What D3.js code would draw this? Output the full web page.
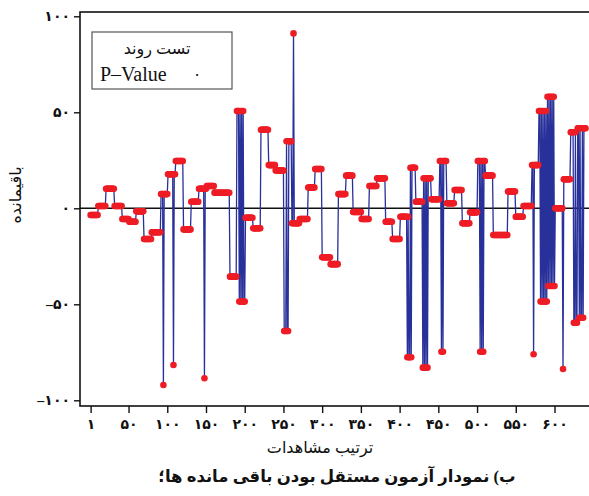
<!DOCTYPE html>
<html><head><meta charset="utf-8">
<script src="https://cdn.jsdelivr.net/npm/d3@7/dist/d3.min.js"></script>
<style>body{margin:0;background:#fff}</style>
</head><body>
<svg id="c" width="589" height="496"></svg>
<script>
// Residual runs: value of each run and how many consecutive observations it covers
const runValue = [
 -3.5,1.2,10.2,1.2,-5.6,-7,-1.6,-16,-12.5,
 7.4,-92,7.4,17.7,-81.6,17.7,24.6,-11,3.4,10.2,-88.5,10.2,11.6,8.1,-35.6,
 50.7,-48.6,50.7,-48.6,50.7,-48.6,50.7,-48.6,
 -4.9,-10.4,40.9,22.5,19.7,-63.9,34.9,-63.9,34.9,-7.8,91.1,-7.8,
 -5.6,10.8,20.5,-25.5,-29.1,7.4,17,-1.9,-5.6,11.6,15.6,-7,-16,-4.4,
 -77.6,-4.4,-77.6,21.1,-77.6,21.1,
 3.4,
 -83,15.6,-83,15.6,-83,15.6,-83,15.6,
 4.7,
 24.6,-74.7,24.6,-74.7,24.6,
 2.6,9.5,-7.8,-2.1,
 24.6,-74.7,24.6,-74.7,24.6,-74.7,24.6,
 17,-13.9,8.7,-4.4,1.2,
 22.5,-76,22.5,
 50.7,-48.6,50.7,-48.6,50.7,-48.6,50.7,-48.6,50.7,-48.6,
 58.1,-40.5,58.1,-40.5,58.1,-40.5,58.1,-40.5,58.1,-40.5,
 0,-83.7,15.1,
 39.6,-59.6,39.6,-59.6,41.7,-57,41.7,-57,41.7,-57,41.7
];
const runCount = [
 10,10,11,10,9,9,10,10,12,
 3,1,5,7,1,2,10,10,10,7,1,2,10,20,9,
 3,1,1,1,1,1,1,2,
 10,10,10,9,11,3,1,2,4,2,1,7,
 11,9,9,11,10,10,9,11,10,10,11,9,10,9,
 1,1,2,1,1,5,
 9,
 1,1,1,1,1,1,1,4,
 11,
 2,1,1,1,4,
 10,10,10,10,
 3,1,1,1,1,1,2,
 10,19,10,10,11,
 2,1,6,
 2,1,1,1,1,1,1,1,1,1,
 1,1,1,1,1,1,1,1,1,1,
 10,1,9,
 4,2,1,2,2,1,1,2,1,1,3
];
const xTickValues = [1,50,100,150,200,250,300,350,400,450,500,550,600];
const xTickLabels = ["۱","۵۰","۱۰۰","۱۵۰","۲۰۰","۲۵۰","۳۰۰","۳۵۰","۴۰۰","۴۵۰","۵۰۰","۵۵۰","۶۰۰"];
const yTickValues = [100,50,0,-50,-100];
const yTickLabels = ["۱۰۰","۵۰","۰","–۵۰","–۱۰۰"];
const legendTitle = "تست روند";
const legendLabel = "P–Value";
const legendValue = "۰";
const xTitle = "ترتیب مشاهدات";
const yTitle = "باقیمانده";
const caption = "ب) نمودار آزمون مستقل بودن باقی مانده ها؛";

// expand runs into observations
const series = [];
runValue.forEach((v, k) => {
  for (let j = 0; j < runCount[k]; j++) series.push({obs: series.length + 1, value: v});
});

const FONT = "'Liberation Serif','DejaVu Sans',serif";
const svg = d3.select("#c");
const frame = {left: 80, right: 592, top: 12, bottom: 406};
const x = d3.scaleLinear().domain([1, 600]).range([90.6, 554.5]);
const y = d3.scaleLinear().domain([-100, 100]).range([400.3, 16.3]);

// zero reference line
svg.append("line")
  .attr("x1", frame.left).attr("x2", frame.right)
  .attr("y1", y(0)).attr("y2", y(0))
  .attr("stroke", "#111").attr("stroke-width", 1.4);

// series line
svg.append("path").datum(series)
  .attr("fill", "none").attr("stroke", "#28309a").attr("stroke-width", 1.3)
  .attr("d", d3.line().x(d => x(d.obs)).y(d => y(d.value)));

// markers
svg.append("g").selectAll("circle").data(series).join("circle")
  .attr("cx", d => x(d.obs)).attr("cy", d => y(d.value)).attr("r", 3.3)
  .attr("fill", "#ee1c25");

// frame
svg.append("rect")
  .attr("x", frame.left).attr("y", frame.top)
  .attr("width", frame.right - frame.left).attr("height", frame.bottom - frame.top)
  .attr("fill", "none").attr("stroke", "#111").attr("stroke-width", 1.6);

// axes
const yAxis = svg.append("g").attr("transform", `translate(${frame.left},0)`)
  .call(d3.axisLeft(y).tickValues(yTickValues).tickFormat((d, i) => yTickLabels[i]).tickSize(6).tickPadding(4));
const xAxis = svg.append("g").attr("transform", `translate(0,${frame.bottom})`)
  .call(d3.axisBottom(x).tickValues(xTickValues).tickFormat((d, i) => xTickLabels[i]).tickSize(7).tickPadding(6));
[yAxis, xAxis].forEach(a => {
  a.select(".domain").remove();
  a.selectAll(".tick line").attr("stroke", "#111").attr("stroke-width", 1.4);
  a.selectAll("text").attr("fill", "#111").style("font-family", FONT).style("font-size", "14px").style("font-weight", "bold");
});

// legend
svg.append("rect").attr("x", 92).attr("y", 32).attr("width", 140).attr("height", 57)
  .attr("fill", "#fff").attr("stroke", "#555").attr("stroke-width", 1.2);
svg.append("text").attr("x", 157).attr("y", 54).attr("text-anchor", "middle")
  .style("font-family", FONT).style("font-size", "16px").attr("fill", "#111").text(legendTitle);
svg.append("text").attr("x", 100).attr("y", 81)
  .style("font-family", FONT).style("font-size", "20px").attr("fill", "#111").text(legendLabel);
svg.append("text").attr("x", 197).attr("y", 80).attr("text-anchor", "middle")
  .style("font-family", FONT).style("font-size", "16px").attr("fill", "#111").text(legendValue);

// titles
svg.append("text").attr("x", 320).attr("y", 453).attr("text-anchor", "middle")
  .style("font-family", FONT).style("font-size", "16px").attr("fill", "#111").text(xTitle);
svg.append("text").attr("transform", "translate(21,195) rotate(-90)").attr("text-anchor", "middle")
  .style("font-family", FONT).style("font-size", "16px").attr("fill", "#111").text(yTitle);
svg.append("text").attr("x", 337).attr("y", 482).attr("text-anchor", "middle").attr("direction", "rtl")
  .style("font-family", FONT).style("font-size", "16.5px").style("font-weight", "bold").attr("fill", "#111").text(caption);
</script>
</body></html>
